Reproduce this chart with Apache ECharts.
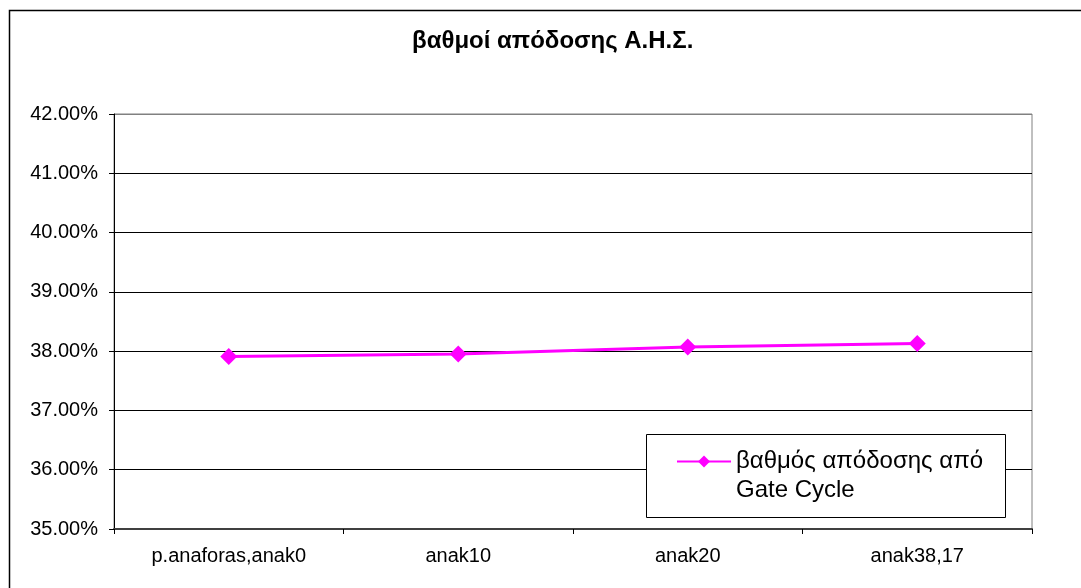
<!DOCTYPE html>
<html>
<head>
<meta charset="utf-8">
<script src="https://cdn.jsdelivr.net/npm/echarts@6/dist/echarts.min.js"></script>
<style>
html,body{margin:0;padding:0;background:#fff;}
#chart{width:1081px;height:588px;}
</style>
</head>
<body>
<div id="chart"></div>
<script>
var categories = ['p.anaforas,anak0', 'anak10', 'anak20', 'anak38,17'];
var efficiency = [37.91, 37.95, 38.07, 38.13];
var seriesName = 'βαθμός απόδοσης από\nGate Cycle';
var titleText = 'βαθμοί απόδοσης Α.Η.Σ.';
var yMin = 35, yMax = 42, yStep = 1;

var FONT = '"Liberation Sans", Arial, sans-serif';
var chart = echarts.init(document.getElementById('chart'), null, {renderer: 'canvas'});
chart.setOption({
  animation: false,
  backgroundColor: '#fff',
  title: {
    text: titleText,
    left: 412, top: 29,
    padding: 0,
    textStyle: {fontFamily: FONT, fontSize: 24, fontWeight: 'bold', color: '#000'}
  },
  grid: {left: 114, right: 49, top: 114, bottom: 59, show: true, borderColor: '#808080', borderWidth: 1},
  xAxis: {
    type: 'category',
    data: categories,
    boundaryGap: true,
    axisLine: {lineStyle: {color: '#404040', width: 2}},
    axisTick: {show: true, length: 5, lineStyle: {color: '#000'}},
    axisLabel: {fontFamily: FONT, fontSize: 20, color: '#000', margin: 17}
  },
  yAxis: {
    type: 'value',
    min: yMin, max: yMax, interval: yStep,
    axisLine: {show: true, lineStyle: {color: '#000', width: 1}},
    axisTick: {show: true, length: 5, lineStyle: {color: '#000'}},
    axisLabel: {fontFamily: FONT, fontSize: 20, color: '#000', margin: 16,
      formatter: function (v) { return v.toFixed(2) + '%'; }},
    splitLine: {lineStyle: {color: ['#000','#000','#000','#000','#000','#000','#000','#808080'], width: 1}}
  },
  legend: {
    data: [seriesName],
    left: 676, top: 418,
    padding: 0,
    itemWidth: 54, itemHeight: 15,
    itemGap: 0,
    selectedMode: false,
    z: 20,
    formatter: function (n) { return '\n' + n; },
    textStyle: {fontFamily: FONT, fontSize: 24, color: '#000', lineHeight: 29}
  },
  graphic: [
    {type: 'rect', z: -10, silent: true, shape: {x: 9.5, y: 10.5, width: 1200, height: 700},
      style: {fill: 'none', stroke: '#000', lineWidth: 1.5}},
    {type: 'rect', z: 10, silent: true, shape: {x: 646.5, y: 434.5, width: 359, height: 83},
      style: {fill: '#fff', stroke: '#000', lineWidth: 1}}
  ],
  series: [{
    name: seriesName,
    type: 'line',
    data: efficiency,
    symbol: 'diamond',
    symbolSize: 17,
    itemStyle: {color: '#FF00FF'},
    lineStyle: {color: '#FF00FF', width: 3}
  }]
});
</script>
</body>
</html>
